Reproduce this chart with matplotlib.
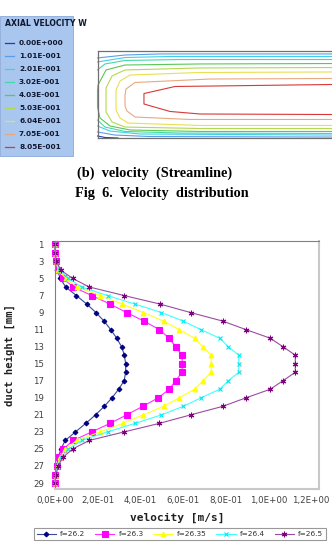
import numpy as np
import matplotlib.pyplot as plt
from matplotlib.lines import Line2D
from matplotlib.patches import Rectangle
from matplotlib.ticker import FuncFormatter

W, H = 332, 556

# contour levels (axial velocity W) and their colours
levels = ['0.00E+000', '1.01E-001', '2.01E-001', '3.02E-001', '4.03E-001',
          '5.03E-001', '6.04E-001', '7.05E-001', '8.05E-001']
level_colors = ['#2038c8', '#5a9ee8', '#40d0ea', '#48d8a8', '#58c858',
                '#b4d850', '#e8e050', '#e8a880', '#d83838']

# iso-lines, x and y in units of duct height
# (each level may have several pieces)
iso_x = {
    0: [[0, 0.086, 0.236]],
    1: [[2.695, 0.718, 0.316, 0], [0, 0.201, 0.603, 2.695]],
    2: [[2.695, 0.833, 0.316, 0], [0, 0.144, 0.489, 2.695]],
    3: [[2.695, 0.948, 0.316, 0.086, 0], [0, 0.086, 0.316, 0.948, 2.695]],
    4: [[2.695, 1.178, 0.316, 0.098, 0.006, 0, 0, 0.029, 0.144, 0.374, 1.178, 2.695]],
    5: [[2.695, 1.178, 0.316, 0.167, 0.098, 0.098, 0.167, 0.316, 1.178, 2.695]],
    6: [[2.695, 1.178, 0.374, 0.259, 0.213, 0.213, 0.259, 0.351, 1.178, 2.695]],
    7: [[2.695, 1.293, 0.431, 0.328, 0.316, 0.316, 0.339, 0.431, 1.063, 2.695]],
    8: [[2.695, 1.753, 0.891, 0.534, 0.534, 0.833, 1.178, 2.695]],
}
iso_y = {
    0: [[0.977, 0.994, 1.0]],
    1: [[0.034, 0.034, 0.046, 0.080], [0.931, 0.966, 0.983, 0.989]],
    2: [[0.063, 0.063, 0.075, 0.126], [0.862, 0.920, 0.954, 0.966]],
    3: [[0.098, 0.098, 0.109, 0.149, 0.218], [0.793, 0.874, 0.925, 0.943, 0.948]],
    4: [[0.144, 0.149, 0.161, 0.218, 0.391, 0.448, 0.644, 0.770, 0.862, 0.908, 0.925, 0.925]],
    5: [[0.190, 0.195, 0.218, 0.287, 0.425, 0.701, 0.816, 0.874, 0.891, 0.891]],
    6: [[0.241, 0.247, 0.276, 0.345, 0.448, 0.678, 0.770, 0.828, 0.856, 0.856]],
    7: [[0.316, 0.322, 0.362, 0.437, 0.506, 0.632, 0.690, 0.759, 0.787, 0.787]],
    8: [[0.385, 0.397, 0.408, 0.489, 0.609, 0.695, 0.724, 0.730]],
}

# velocity profiles
height = list(range(1, 30))
labels = ['f=26.2', 'f=26.3', 'f=26.35', 'f=26.4', 'f=26.5']
v262 = [0, 0, 0.005, 0.01, 0.025, 0.05, 0.10, 0.149, 0.192, 0.23, 0.261, 0.289, 0.312, 0.325, 0.331,
        0.331, 0.324, 0.298, 0.267, 0.231, 0.19, 0.144, 0.096, 0.048, 0.028, 0.015, 0.008, 0.003, 0]
v263 = [0, 0, 0.003, 0.012, 0.038, 0.086, 0.172, 0.258, 0.336, 0.417, 0.489, 0.535, 0.565, 0.596, 0.596,
        0.596, 0.565, 0.535, 0.484, 0.411, 0.336, 0.258, 0.172, 0.086, 0.039, 0.021, 0.008, 0, 0]
v2635 = [0, 0, 0.005, 0.015, 0.051, 0.103, 0.211, 0.316, 0.414, 0.509, 0.582, 0.654, 0.693, 0.732, 0.732,
         0.732, 0.693, 0.654, 0.582, 0.509, 0.414, 0.317, 0.211, 0.103, 0.049, 0.024, 0.01, 0.003, 0]
v264 = [0, 0, 0.006, 0.021, 0.063, 0.125, 0.246, 0.375, 0.499, 0.601, 0.684, 0.771, 0.812, 0.861, 0.861,
        0.861, 0.812, 0.771, 0.684, 0.601, 0.499, 0.375, 0.246, 0.125, 0.063, 0.028, 0.012, 0.004, 0]
v265 = [0, 0, 0.007, 0.026, 0.083, 0.161, 0.324, 0.492, 0.636, 0.786, 0.895, 1.008, 1.068, 1.126, 1.126,
        1.126, 1.068, 1.008, 0.895, 0.786, 0.636, 0.489, 0.324, 0.161, 0.083, 0.036, 0.015, 0.005, 0]
xticks = [0, 0.2, 0.4, 0.6, 0.8, 1.0, 1.2]
yticks = list(range(1, 30, 2))


def fx(x):
    return x / W


def fy(y):
    return 1 - y / H


fig = plt.figure(figsize=(W / 100, H / 100), dpi=100)

# --- legend panel of the contour picture
fig.patches.append(Rectangle((0, fy(156)), fx(73), fy(16) - fy(156), transform=fig.transFigure,
                             facecolor='#a9c6ee', edgecolor='#8aa8d8', lw=0.6))
fig.text(fx(5), fy(24), 'AXIAL VELOCITY W', fontsize=5.6, fontweight='bold', color='#101830',
         va='center', ha='left')
for i in range(len(levels)):
    yy = fy(43 + 13 * i)
    fig.lines.append(Line2D([fx(5), fx(14)], [yy, yy], transform=fig.transFigure,
                            color=level_colors[i], lw=0.9))
    fig.text(fx(19), yy, levels[i], fontsize=5.3, fontweight='bold', color='#101830',
             va='center', ha='left')

# --- contour lines
ax0 = fig.add_axes([fx(97.5), fy(138), 1 - fx(97.5), fy(51) - fy(138)])
for i in range(len(levels)):
    for xs, ys in zip(iso_x[i], iso_y[i]):
        ax0.plot(xs, ys, color=level_colors[i], lw=0.8, clip_on=False)
ax0.set_xlim(0, 2.695)
ax0.set_ylim(1, 0)
ax0.set_xticks([])
ax0.set_yticks([])
ax0.spines['right'].set_visible(False)
for s in ['top', 'left', 'bottom']:
    ax0.spines[s].set_color('#707070')
    ax0.spines[s].set_linewidth(0.9)

# --- captions
fig.text(fx(155), fy(173), '(b)  velocity  (Streamline)', fontsize=10.3, fontweight='bold',
         family='Liberation Serif', ha='center', va='center')
fig.text(fx(162), fy(194), 'Fig  6.  Velocity  distribution', fontsize=10.3, fontweight='bold',
         family='Liberation Serif', ha='center', va='center')

# --- velocity profiles
ax = fig.add_axes([fx(55), fy(489), fx(319) - fx(55), fy(241) - fy(489)])
series = [v262, v263, v2635, v264, v265]
line_cols = ['#3c4a9a', '#ff30ff', '#ffff20', '#40ffff', '#9a4ca0']
mk_cols = ['#000080', '#ff00ff', '#ffff00', '#00e8f0', '#800080']
markers = ['D', 's', '^', 'x', (6, 2, 0)]
msizes = [2.4, 4, 3.5, 3.5, 4]
for vals, lab, lc, mc, m, ms in zip(series, labels, line_cols, mk_cols, markers, msizes):
    ax.plot(vals, height, color=lc, lw=0.8, marker=m, ms=ms, mfc=mc, mec=mc, mew=0.8,
            label=lab, clip_on=False)

ax.set_xlim(0, 1.237)
ax.set_ylim(29.7, 0.6)
ax.set_xticks(xticks)
ax.set_yticks(yticks)
ax.xaxis.set_major_formatter(FuncFormatter(lambda v, p: f'{v:.1E}'.replace('.', ',')))
ax.tick_params(length=0, labelsize=6.2, labelcolor='#404040')
ax.tick_params(axis='y', pad=8)
ax.tick_params(axis='x', pad=5)
ax.spines['left'].set_color('#808080')
ax.spines['top'].set_color('#808080')
ax.spines['right'].set_color('#c8c8c8')
ax.spines['bottom'].set_color('#c8c8c8')
ax.spines['right'].set_linewidth(1.5)
ax.spines['bottom'].set_linewidth(1.5)

ax.set_xlabel('velocity [m/s]', family='DejaVu Sans Mono', fontweight='bold', fontsize=8,
              color='#202020')
ax.xaxis.set_label_coords((177 - 55) / 264, (489 - 513) / 248)
ax.set_ylabel('duct height [mm]', family='DejaVu Sans Mono', fontweight='bold', fontsize=7.6,
              color='#202020')
ax.yaxis.set_label_coords((15 - 55) / 264, (489 - 355) / 248)

leg = fig.legend(loc='center', ncol=5, mode='expand', fontsize=5.3, frameon=True,
                 bbox_to_anchor=(fx(30), fy(542), fx(330) - fx(30), fy(526) - fy(542)),
                 handlelength=2.6, handletextpad=0.6, columnspacing=1.0, borderpad=0.4)
leg.get_frame().set_edgecolor('#808080')
leg.get_frame().set_linewidth(0.8)
leg.get_frame().set_boxstyle('square', pad=0)
for t in leg.get_texts():
    t.set_color('#303030')

fig.savefig('out.png', dpi=100)
